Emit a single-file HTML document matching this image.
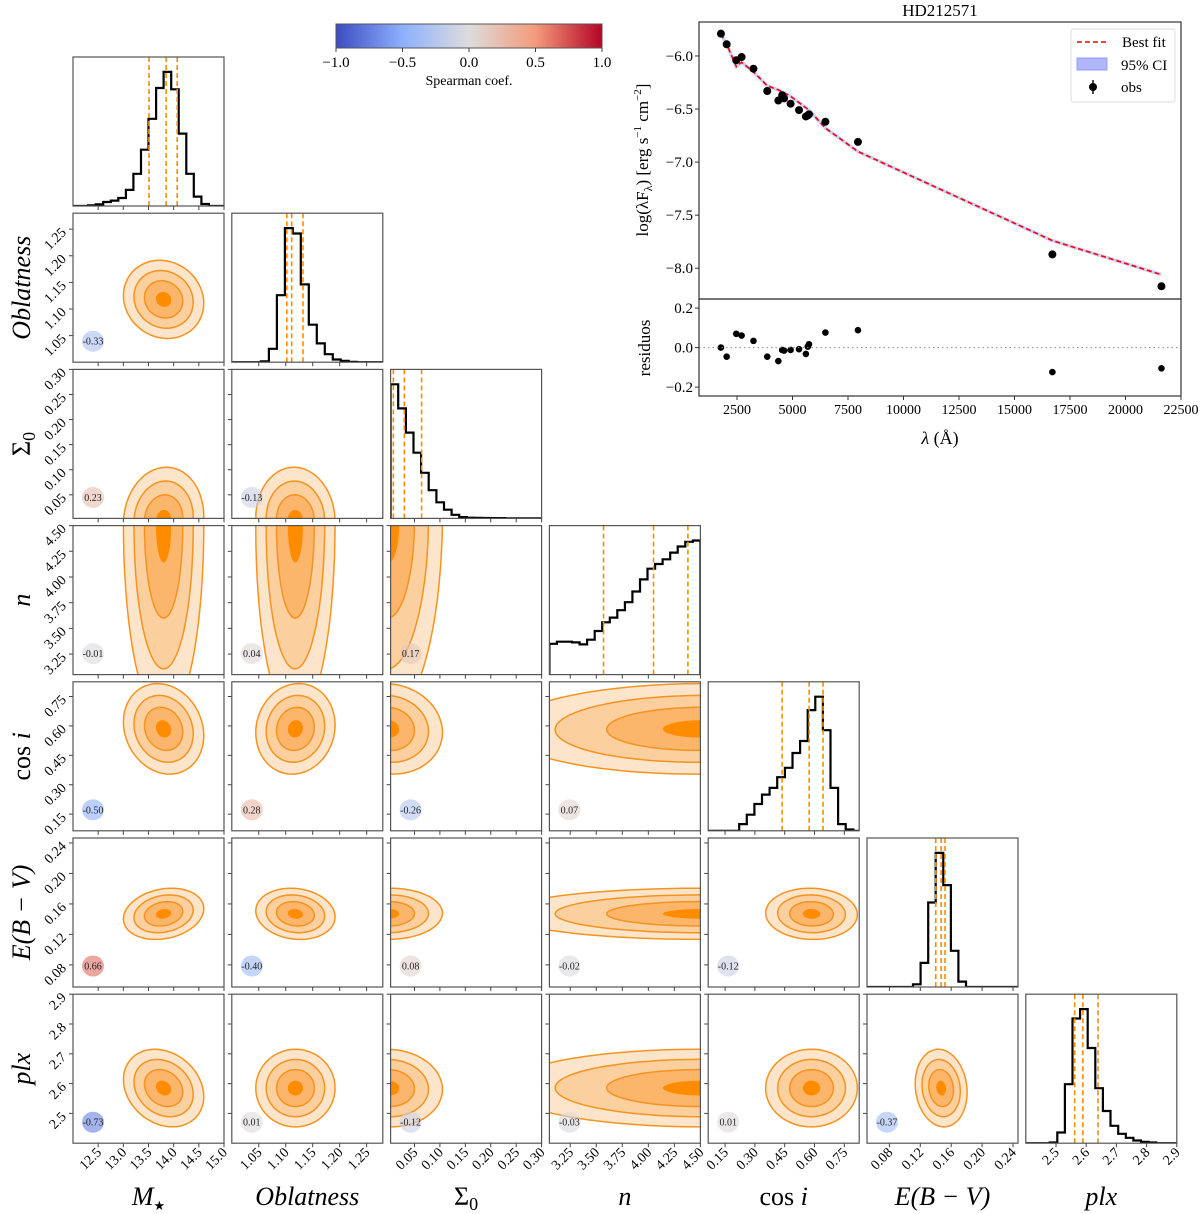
<!DOCTYPE html>
<html><head><meta charset="utf-8"><title>Corner plot HD212571</title>
<style>
html,body{margin:0;padding:0;background:#fff;}
svg{display:block;font-family:"Liberation Serif",serif;}
</style></head>
<body>
<svg id="fig" width="1200" height="1214" viewBox="0 0 1200 1214" xmlns="http://www.w3.org/2000/svg">
<defs>
<linearGradient id="cw" x1="0" x2="1" y1="0" y2="0">
<stop offset="0" stop-color="#3b4cc0"/><stop offset="0.25" stop-color="#8db0fe"/>
<stop offset="0.5" stop-color="#dddcdc"/><stop offset="0.75" stop-color="#f49a7b"/>
<stop offset="1" stop-color="#b40426"/></linearGradient>
</defs>
</svg>
<script>
// ---------- corner data ----------
const paramNames = ["M","obl","sig","n","cosi","ebv","plx"];
const paramLo = [12.0, 1.0, 0.003, 3.05, 0.065, 0.051, 2.4];
const paramHi = [15.0, 1.28, 0.30, 4.5, 0.825, 0.2465, 2.9];
const tickM = [12.5,13.0,13.5,14.0,14.5,15.0];
const tickObl = [1.05,1.10,1.15,1.20,1.25];
const tickSig = [0.05,0.10,0.15,0.20,0.25,0.30];
const tickN = [3.25,3.50,3.75,4.00,4.25,4.50];
const tickCosi = [0.15,0.30,0.45,0.60,0.75];
const tickEbv = [0.08,0.12,0.16,0.20,0.24];
const tickPlx = [2.5,2.6,2.7,2.8,2.9];
const tickDigits = [1,2,2,2,2,2,1];
const postMean = [13.8, 1.118, 0.0, 4.5, 0.585, 0.147, 2.585];
const postSd = [0.38, 0.035, 0.05, 0.9, 0.11, 0.016, 0.062];
const histStart = [12.3, 1.054, 0.003, 3.05, 0.221, 0.1106, 2.479];
const histWidth = [0.15, 0.0148, 0.015, 0.0725, 0.0383, 0.0098, 0.0252];
const histM = [0.005,0.012,0.03,0.04,0.06,0.12,0.24,0.42,0.65,0.88,1.0,0.87,0.54,0.24,0.07,0.015];
const histObl = [0.007,0.1,0.5,1.0,0.96,0.58,0.28,0.14,0.06,0.02,0.01,0.003];
const histSig = [1.0,0.82,0.64,0.49,0.34,0.21,0.12,0.065,0.027,0.01,0.005,0.004,0.003,0.002,0.002,0.001,0.001];
const histN = [0.23,0.245,0.245,0.24,0.225,0.26,0.325,0.39,0.425,0.48,0.54,0.62,0.71,0.79,0.825,0.86,0.91,0.955,0.99,1.0];
const histCosi = [0.05,0.12,0.2,0.27,0.32,0.4,0.47,0.58,0.67,0.9,1.0,0.75,0.32,0.05,0.01];
const histEbv = [0.02,0.18,0.63,1.0,0.76,0.27,0.04];
const histPlx = [0.005,0.08,0.44,0.93,1.0,0.71,0.41,0.24,0.13,0.07,0.04,0.02,0.01,0.005];
const quantM = [13.51,13.85,14.07];
const quantObl = [1.102,1.111,1.132];
const quantSig = [0.0085,0.030,0.064];
const quantN = [3.57,4.05,4.38];
const quantCosi = [0.437,0.573,0.643];
const quantEbv = [0.140,0.147,0.152];
const quantPlx = [2.562,2.589,2.639];
const spearRow1 = [-0.33];
const spearRow2 = [0.23,-0.13];
const spearRow3 = [-0.01,0.04,0.17];
const spearRow4 = [-0.50,0.28,-0.26,0.07];
const spearRow5 = [0.66,-0.40,0.08,-0.02,-0.12];
const spearRow6 = [-0.73,0.01,-0.12,-0.03,0.01,-0.37];
const contourLevels = [2.1,1.55,1.0,0.4];
// ---------- SED data ----------
const sedLam = [1776,2034,2466,2707,3241,3862,4362,4534,4620,4914,5293,5603,5689,5741,6482,7948,16706,21619];
const sedFlux = [-5.79,-5.89,-6.04,-6.01,-6.12,-6.33,-6.42,-6.37,-6.40,-6.45,-6.51,-6.57,-6.56,-6.55,-6.62,-6.81,-7.87,-8.17];
const sedResid = [0.0,-0.046,0.07,0.061,0.034,-0.046,-0.068,-0.012,-0.015,-0.012,-0.008,-0.032,0.005,0.017,0.076,0.088,-0.124,-0.105];
const fitLam = [1776,2034,2466,2707,3241,3862,4362,4914,5741,6482,7948,16706,21619];
const fitFlux = [-5.79,-5.89,-6.10,-6.06,-6.15,-6.28,-6.32,-6.38,-6.51,-6.68,-6.90,-7.74,-8.06];
const sedXTicks = [2500,5000,7500,10000,12500,15000,17500,20000,22500];
const sedYTicks = [-6.0,-6.5,-7.0,-7.5,-8.0];
const residYTicks = [0.2,0.0,-0.2];
const cbTicks = [-1.0,-0.5,0.0,0.5,1.0];

const NS="http://www.w3.org/2000/svg";
const svg=document.getElementById('fig');
function el(tag,attrs,parent){const e=document.createElementNS(NS,tag);for(const k in attrs)e.setAttribute(k,attrs[k]);(parent||svg).appendChild(e);return e;}
const ticksAll=[tickM,tickObl,tickSig,tickN,tickCosi,tickEbv,tickPlx];
const hists=[histM,histObl,histSig,histN,histCosi,histEbv,histPlx];
const quants=[quantM,quantObl,quantSig,quantN,quantCosi,quantEbv,quantPlx];
const spear=[[],spearRow1,spearRow2,spearRow3,spearRow4,spearRow5,spearRow6];
const PW=151, PH=149;
function colX(j){return 73+158.8*j;}
function rowY(i){return 57+156.2*i;}
function sx(p,v){return (v-paramLo[p])/(paramHi[p]-paramLo[p])*PW;}
function sy(p,v){return PH-(v-paramLo[p])/(paramHi[p]-paramLo[p])*PH;}
const cwStops=[[-1,[59,76,192]],[-0.5,[141,176,254]],[0,[221,220,220]],[0.5,[244,154,123]],[1,[180,4,38]]];
function coolwarm(v){for(let k=0;k<cwStops.length-1;k++){const a=cwStops[k],b=cwStops[k+1];if(v<=b[0]){const t=(v-a[0])/(b[0]-a[0]);return 'rgb('+a[1].map((c,i)=>Math.round(c+(b[1][i]-c)*t)).join(',')+')';}}return 'rgb(180,4,38)';}
const fills=['#fde5cb','#fccf9f','#fbb66c','#ff8c00'];
function addLabel(parent,idx,x,y,rot){
  const t=el('text',{x:x,y:y,'font-size':26,'text-anchor':'middle','font-style':'italic'},parent);
  if(rot)t.setAttribute('transform','rotate(-90 '+x+' '+y+')');
  if(idx===4){const a=el('tspan',{'font-style':'normal'},t);a.textContent='cos ';const b=el('tspan',{},t);b.textContent='i';}
  else if(idx===2){const a=el('tspan',{'font-style':'normal'},t);a.textContent='Σ';const b=el('tspan',{'font-style':'normal','font-size':18,dy:5},t);b.textContent='0';}
  else if(idx===0){const a=el('tspan',{},t);a.textContent='M';const b=el('tspan',{'font-size':13,dy:5,'font-style':'normal'},t);b.textContent='★';}
  else if(idx===1)t.textContent='Oblatness';
  else if(idx===3)t.textContent='n';
  else if(idx===5)t.textContent='E(B − V)';
  else t.textContent='plx';
  return t;
}
for(let i=0;i<7;i++){
  for(let j=0;j<=i;j++){
    const X=colX(j),Y=rowY(i);
    const g=el('g',{transform:'translate('+X.toFixed(1)+','+Y.toFixed(1)+')'});
    
    
    const cid='clip'+i+'_'+j;
    const cp=el('clipPath',{id:cid},g);el('rect',{x:0,y:0,width:PW,height:PH},cp);
    const inner=el('g',{'clip-path':'url(#'+cid+')'},g);
    if(i===j){
      const h=hists[i];const mx=Math.max(...h);
      let d='M0,'+PH;
      for(let k=0;k<h.length;k++){
        const x0=sx(i,histStart[i]+k*histWidth[i]),x1=sx(i,histStart[i]+(k+1)*histWidth[i]);
        const yy=PH-h[k]/mx*PH*0.9;
        d+=' L'+x0.toFixed(1)+','+(k===0?PH:PH-h[k-1]/mx*PH*0.9).toFixed(1)+' L'+x0.toFixed(1)+','+yy.toFixed(1)+' L'+x1.toFixed(1)+','+yy.toFixed(1);
      }
      d+=' L'+sx(i,histStart[i]+h.length*histWidth[i]).toFixed(1)+','+PH+' L'+PW+','+PH;
      const hp=el('path',{d:d,fill:'none',stroke:'#000','stroke-width':2.2},inner);
      
      
      quants[i].forEach((q,k)=>{
        const ql=el('line',{x1:sx(i,q),x2:sx(i,q),y1:0,y2:PH,stroke:'#ff8c00','stroke-width':1.6,'stroke-dasharray':'5,3'},inner);
        
        
      });
    } else {
      const r=spear[i][j];const rho=0.3*r;
      const ax=sx(j,postMean[j]),ay=sy(i,postMean[i]);
      const kx=postSd[j]/(paramHi[j]-paramLo[j])*PW, ky=postSd[i]/(paramHi[i]-paramLo[i])*PH;
      contourLevels.forEach((lv,li)=>{
        let d='';
        for(let s=0;s<=72;s++){const t=s/72*2*Math.PI;
          const px=ax+lv*kx*Math.cos(t);
          const py=ay-lv*ky*(rho*Math.cos(t)+Math.sqrt(1-rho*rho)*Math.sin(t));
          d+=(s?' L':'M')+px.toFixed(1)+','+py.toFixed(1);}
        const c=el('path',{d:d+'Z',fill:fills[li],stroke:li<3?'#f5931f':'none','stroke-width':1.5},inner);
        
        
      });
      const badge=el('ellipse',{cx:20,cy:128,rx:11,ry:10.5,fill:coolwarm(r),'fill-opacity':0.6},g);
      
      
      const bt=el('text',{x:20,y:131.5,'font-size':10,'text-anchor':'middle',fill:'#222'},g);
      bt.textContent=r.toFixed(2);
      
      
      ticksAll[i].forEach(tv=>{const y=sy(i,tv);if(y<-0.5||y>PH+0.5)return;el('line',{x1:-4,x2:0,y1:y,y2:y,stroke:'#444','stroke-width':1},g);
        if(j===0){const tx=el('text',{x:-6,y:y+4,'font-size':14,'text-anchor':'end',transform:'rotate(-45 -6 '+(y+4)+')'},g);tx.textContent=tv.toFixed(tickDigits[i]);}});
    }
    el('rect',{x:0,y:0,width:PW,height:PH,fill:'none',stroke:'#555','stroke-width':1.2},g);
    ticksAll[j].forEach(tv=>{const x=sx(j,tv);if(x<-0.5||x>PW+0.5)return;el('line',{x1:x,x2:x,y1:PH,y2:PH+4,stroke:'#444','stroke-width':1},g);
      if(i===6){const tx=el('text',{x:x+4,y:PH+10,'font-size':14,'text-anchor':'end',transform:'rotate(-45 '+(x+4)+' '+(PH+10)+')'},g);tx.textContent=tv.toFixed(tickDigits[j]);}});
  }
}
for(let k=0;k<7;k++){
  const bl=addLabel(svg,k,colX(k)+PW/2,1205,false);
  
  
  if(k>0){const ll=addLabel(svg,k,30,rowY(k)+PH/2,true);
    
    }
}
// ---------- colorbar ----------
const cb=el('g',{});


el('rect',{x:336,y:24,width:266,height:24,fill:'url(#cw)',stroke:'#555','stroke-width':1},cb);
cbTicks.forEach(v=>{const x=336+(v+1)/2*266;el('line',{x1:x,x2:x,y1:48,y2:52,stroke:'#444'},cb);
  const t=el('text',{x:x,y:67,'font-size':15,'text-anchor':'middle'},cb);t.textContent=(v<0?'−':'')+Math.abs(v).toFixed(1);});
const cbl=el('text',{x:469,y:85,'font-size':14,'text-anchor':'middle'},cb);cbl.textContent='Spearman coef.';
// ---------- SED ----------
const SL=699,SR=1181,ST=22,SM=299,SB=396;
const lamLo=788,lamHi=22500,fLo=-8.29,fHi=-5.68,rLo=-0.245,rHi=0.246;
function lx(v){return SL+(v-lamLo)/(lamHi-lamLo)*(SR-SL);}
function fy(v){return ST+(fHi-v)/(fHi-fLo)*(SM-ST);}
function ry(v){return SM+(rHi-v)/(rHi-rLo)*(SB-SM);}
const sed=el('g',{});


const ttl=el('text',{x:940,y:16,'font-size':17,'text-anchor':'middle'},sed);ttl.textContent='HD212571';
let fd='';fitLam.forEach((l,k)=>{fd+=(k?' L':'M')+lx(l).toFixed(1)+','+fy(fitFlux[k]).toFixed(1);});
el('path',{d:fd,fill:'none',stroke:'#aab4ff','stroke-width':3.5,'stroke-opacity':0.6},sed);
const fitp=el('path',{d:fd,fill:'none',stroke:'#ff0000','stroke-width':1.6,'stroke-dasharray':'5,3'},sed);


sedLam.forEach((l,k)=>{
  const p=el('circle',{cx:lx(l),cy:fy(sedFlux[k]),r:4,fill:'#000'},sed);
  
  
  const q=el('circle',{cx:lx(l),cy:ry(sedResid[k]),r:3.3,fill:'#000'},sed);
  
  
});
el('line',{x1:SL,x2:SR,y1:ry(0),y2:ry(0),stroke:'#888','stroke-width':1,'stroke-dasharray':'1.5,3'},sed);
el('rect',{x:SL,y:ST,width:SR-SL,height:SM-ST,fill:'none',stroke:'#333','stroke-width':1.2},sed);
el('rect',{x:SL,y:SM,width:SR-SL,height:SB-SM,fill:'none',stroke:'#333','stroke-width':1.2},sed);
sedYTicks.forEach(v=>{const y=fy(v);el('line',{x1:SL-4,x2:SL,y1:y,y2:y,stroke:'#333'},sed);
  const t=el('text',{x:SL-6,y:y+5,'font-size':15,'text-anchor':'end'},sed);t.textContent='−'+Math.abs(v).toFixed(1);});
residYTicks.forEach(v=>{const y=ry(v);el('line',{x1:SL-4,x2:SL,y1:y,y2:y,stroke:'#333'},sed);
  const t=el('text',{x:SL-6,y:y+5,'font-size':15,'text-anchor':'end'},sed);t.textContent=(v<0?'−':'')+Math.abs(v).toFixed(1);});
sedXTicks.forEach(v=>{const x=lx(v);el('line',{x1:x,x2:x,y1:SB,y2:SB+4,stroke:'#333'},sed);
  const t=el('text',{x:x,y:SB+18,'font-size':14,'text-anchor':'middle'},sed);t.textContent=String(v);});
const yl=el('text',{x:648,y:160,'font-size':17,'text-anchor':'middle',transform:'rotate(-90 648 160)'},sed);
yl.textContent='log(λF';const ys=el('tspan',{'font-size':12,dy:4},yl);ys.textContent='λ';
const ys2=el('tspan',{dy:-4},yl);ys2.textContent=') [erg s';const ys3=el('tspan',{'font-size':11,dy:-7},yl);ys3.textContent='−1';
const ys4=el('tspan',{dy:7},yl);ys4.textContent=' cm';const ys5=el('tspan',{'font-size':11,dy:-7},yl);ys5.textContent='−2';
const ys6=el('tspan',{dy:7},yl);ys6.textContent=']';


const rl=el('text',{x:650,y:348,'font-size':17,'text-anchor':'middle',transform:'rotate(-90 650 348)'},sed);rl.textContent='residuos';


const xl=el('text',{x:940,y:444,'font-size':18,'text-anchor':'middle'},sed);
const xa=el('tspan',{'font-style':'italic'},xl);xa.textContent='λ';const xb=el('tspan',{},xl);xb.textContent=' (Å)';


const lg=el('g',{});


el('rect',{x:1071,y:29,width:104,height:73,rx:3,fill:'#fff',stroke:'#ddd'},lg);
el('line',{x1:1077,x2:1107,y1:42,y2:42,stroke:'#f00','stroke-width':1.6,'stroke-dasharray':'5,3'},lg);
const t1=el('text',{x:1122,y:47,'font-size':15},lg);t1.textContent='Best fit';
el('rect',{x:1077,y:58,width:30,height:12,fill:'#b0b6ff',stroke:'#9098ff'},lg);
const t2=el('text',{x:1121,y:70,'font-size':15},lg);t2.textContent='95% CI';
el('circle',{cx:1093,cy:87,r:4,fill:'#000'},lg);el('line',{x1:1093,x2:1093,y1:80,y2:94,stroke:'#000','stroke-width':1.4},lg);
const t3=el('text',{x:1121,y:92,'font-size':15},lg);t3.textContent='obs';
</script>
</body></html>
